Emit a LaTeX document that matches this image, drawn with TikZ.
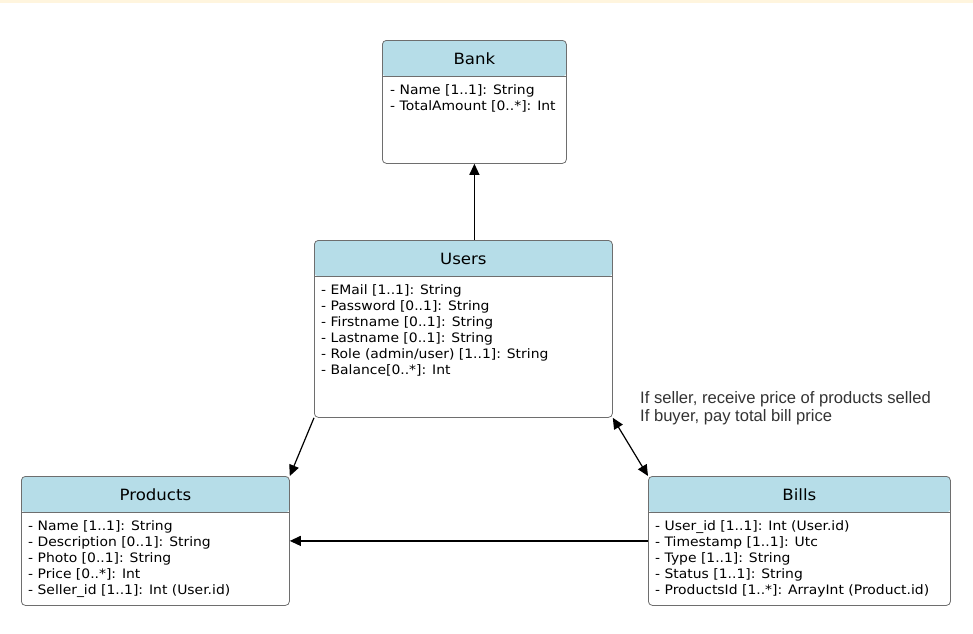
\documentclass[tikz,border=0pt]{standalone}
\usepackage{fontspec}
\setmainfont{DejaVu Sans}[FakeStretch=1.07]
\newfontfamily\notefont{Liberation Sans}
\usetikzlibrary{arrows.meta}
\definecolor{headfill}{RGB}{182,221,232}
\definecolor{boxline}{RGB}{110,110,110}
\definecolor{notetext}{RGB}{51,51,51}
\definecolor{topstrip}{RGB}{255,245,222}
\begin{document}
\begin{tikzpicture}[x=1pt,y=-1pt,
	classbox/.style={draw=boxline, line width=0.8pt, rounded corners=4pt, anchor=north west, inner sep=0pt,
		path picture={
			\fill[headfill] (path picture bounding box.north west) rectangle ([yshift=-36pt]path picture bounding box.north east);
			\draw[boxline, line width=0.8pt] ([yshift=-36pt]path picture bounding box.north west) -- ([yshift=-36pt]path picture bounding box.north east);}},
	classname/.style={anchor=base, font=\fontsize{15.5}{18}\selectfont},
	fields/.style={anchor=north west, align=left, inner sep=0pt, font=\fontsize{13}{16}\selectfont},
	assoc/.style={line width=1.2pt, -{Triangle[length=11pt,width=10pt]}}]
\useasboundingbox (0,0) rectangle (973,633);
\fill[topstrip] (0,0) rectangle (973,3);

% classes
\node[classbox, minimum width=184pt, minimum height=123pt] (bank) at (382,40) {};
\node[classbox, minimum width=298pt, minimum height=177pt] (users) at (314,240) {};
\node[classbox, minimum width=268pt, minimum height=129pt] (products) at (21,476) {};
\node[classbox, minimum width=302pt, minimum height=129pt] (bills) at (648,476) {};

\node[classname] (bankname) at ([yshift=-24pt]bank.north) {Bank};
\node[classname] (usersname) at ([yshift=-24pt]users.north) {Users};
\node[classname] (productsname) at ([yshift=-24pt]products.north) {Products};
\node[classname] (billsname) at ([yshift=-24pt]bills.north) {Bills};

\node[fields] (bankfields) at ([xshift=8pt,yshift=-44pt]bank.north west)
	{- Name [1..1]: String\\- TotalAmount [0..*]: Int};
\node[fields] (usersfields) at ([xshift=7pt,yshift=-44pt]users.north west)
	{- EMail [1..1]: String\\- Password [0..1]: String\\- Firstname [0..1]: String\\
	 - Lastname [0..1]: String\\- Role (admin/user) [1..1]: String\\- Balance[0..*]: Int};
\node[fields] (productsfields) at ([xshift=7pt,yshift=-44pt]products.north west)
	{- Name [1..1]: String\\- Description [0..1]: String\\- Photo [0..1]: String\\
	 - Price [0..*]: Int\\- Seller\_id [1..1]: Int (User.id)};
\node[fields] (billsfields) at ([xshift=7pt,yshift=-44pt]bills.north west)
	{- User\_id [1..1]: Int (User.id)\\- Timestamp [1..1]: Utc\\- Type [1..1]: String\\
	 - Status [1..1]: String\\- ProductsId [1..*]: ArrayInt (Product.id)};

\node[anchor=north west, align=left, inner sep=0pt, text=notetext, font=\notefont\fontsize{16.6}{18}\selectfont] (note) at (640,391)
	{If seller, receive price of products selled\\If buyer, pay total bill price};

% links
\draw[assoc] (users.north -| bank.south) -- (bank.south);
\draw[assoc] (users.south west) -- (products.north east);
\draw[assoc, {Triangle[length=11pt,width=10pt]}-{Triangle[length=11pt,width=10pt]}] (users.south east) -- (bills.north west);
\draw[assoc] (bills.west) -- (products.east);
\end{tikzpicture}
\end{document}
